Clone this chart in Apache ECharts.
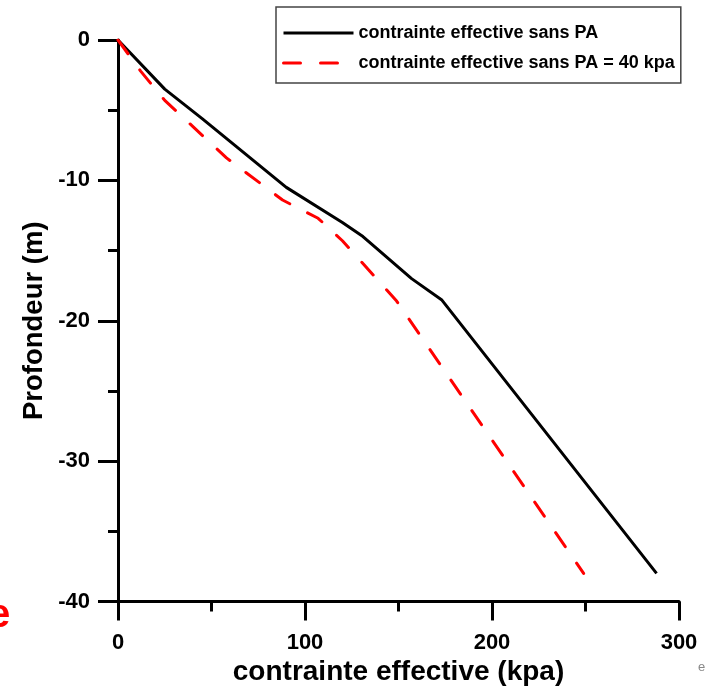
<!DOCTYPE html>
<html><head><meta charset="utf-8">
<script src="https://cdn.jsdelivr.net/npm/echarts@6/dist/echarts.min.js"></script>
<style>html,body{margin:0;padding:0;background:#fff}#c{width:705px;height:693px}</style>
</head><body><div id="c"></div>
<script>
const seriesNames = ['contrainte effective sans PA', 'contrainte effective sans PA = 40 kpa'];
const blackX = [0, 25, 45, 90, 120, 131, 157, 173, 288];
const blackY = [0, -3.5, -5.6, -10.5, -13, -14, -17, -18.5, -38];
const redX = [0, 12, 25, 58, 88, 107, 120, 149, 249];
const redY = [0, -2.2, -4.3, -8.4, -11.4, -12.7, -14.3, -18.6, -38];
const xTicks = [0, 100, 200, 300];
const yTicks = [0, -10, -20, -30, -40];
const xName = 'contrainte effective (kpa)';
const yName = 'Profondeur (m)';

const FONT = '"Liberation Sans", Arial, sans-serif';
const pair = (xs, ys) => xs.map((v, i) => [v, ys[i]]);
const hidden = {color: 'rgba(0,0,0,0)', borderColor: 'rgba(0,0,0,0)', borderWidth: 0};

const chart = echarts.init(document.getElementById('c'), null, {renderer: 'canvas'});
chart.setOption({
  animation: false,
  backgroundColor: '#fff',
  grid: {left: 118, right: 26, top: 40, bottom: 91.5, containLabel: false, outerBoundsMode: 'none'},
  legend: {
    orient: 'vertical', left: 276, top: 7,
    padding: [17, 6, 11, 6],
    itemGap: 12, itemWidth: 70, itemHeight: 18,
    borderColor: '#444', borderWidth: 1.5,
    backgroundColor: '#fff',
    itemStyle: hidden,
    textStyle: {fontFamily: FONT, fontWeight: 'bold', fontSize: 18, color: '#000', lineHeight: 18},
    data: [
      {name: seriesNames[0], itemStyle: hidden, lineStyle: {color: '#000', width: 3, type: 'solid'}},
      {name: seriesNames[1], itemStyle: hidden, lineStyle: {color: '#ff0000', width: 3, type: [17, 20]}}
    ]
  },
  xAxis: {
    type: 'value', min: xTicks[0], max: xTicks[xTicks.length - 1], interval: 100,
    name: xName, nameLocation: 'middle', nameGap: 52,
    nameTextStyle: {fontFamily: FONT, fontWeight: 'bold', fontSize: 28, color: '#000'},
    axisLine: {onZero: false, lineStyle: {color: '#000', width: 3}},
    axisTick: {show: true, inside: false, length: 19, lineStyle: {color: '#000', width: 3}},
    minorTick: {show: true, splitNumber: 2, length: 10, lineStyle: {color: '#000', width: 3}},
    splitLine: {show: false},
    axisLabel: {margin: 30, fontFamily: FONT, fontWeight: 'bold', fontSize: 22, color: '#000',
      formatter: v => xTicks.includes(v) ? String(v) : ''}
  },
  yAxis: {
    type: 'value', min: yTicks[yTicks.length - 1], max: yTicks[0], interval: 10,
    name: yName, nameLocation: 'middle', nameGap: 70, nameRotate: 90, nameMoveOverlap: false,
    nameTextStyle: {fontFamily: FONT, fontWeight: 'bold', fontSize: 27.5, color: '#000'},
    axisLine: {onZero: false, lineStyle: {color: '#000', width: 3}},
    axisTick: {show: true, inside: false, length: 20, lineStyle: {color: '#000', width: 3}},
    minorTick: {show: true, splitNumber: 2, length: 10, lineStyle: {color: '#000', width: 3}},
    splitLine: {show: false},
    axisLabel: {margin: 28, fontFamily: FONT, fontWeight: 'bold', fontSize: 22, color: '#000',
      formatter: v => yTicks.includes(v) ? String(v) : ''}
  },
  series: [
    {name: seriesNames[0], type: 'line', data: pair(blackX, blackY), symbol: 'none', smooth: false,
     lineStyle: {color: '#000', width: 3, type: 'solid'}, itemStyle: {color: '#000'}},
    {name: seriesNames[1], type: 'line', data: pair(redX, redY), symbol: 'none', smooth: false,
     lineStyle: {color: '#ff0000', width: 3, type: [17, 20], cap: 'round'}, itemStyle: {color: '#ff0000'}}
  ],
  graphic: [
    {type: 'text', left: -12, top: 596, style: {text: 'e', fill: '#ff0000', font: 'bold 40px ' + FONT}},
    {type: 'text', left: 698, top: 661, style: {text: 'e', fill: '#888', font: '13px ' + FONT}}
  ]
});
</script>
</body></html>
